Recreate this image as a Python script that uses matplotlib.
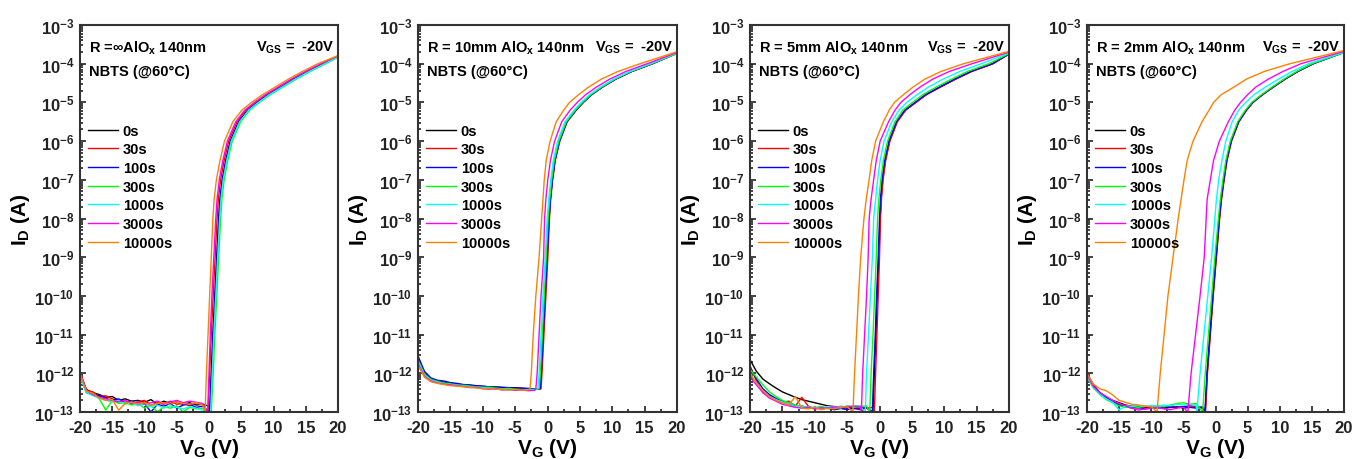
import numpy as np
import matplotlib
matplotlib.use("Agg")
import matplotlib.pyplot as plt
from matplotlib.ticker import FixedLocator, NullFormatter, FuncFormatter

plt.rcParams['font.family'] = ['Liberation Sans', 'DejaVu Sans']
plt.rcParams['font.weight'] = 'bold'
plt.rcParams['mathtext.default'] = 'regular'
plt.rcParams['axes.unicode_minus'] = False

# ---------------- data ----------------
LABELS = ['0s', '30s', '100s', '300s', '1000s', '3000s', '10000s']
COLORS = ['#000000', '#FF0000', '#0000FF', '#00FF00', '#00FFFF', '#FF00FF', '#FF8000']

TITLES = ['R =\u221eAlO$_x$ 140nm', 'R = 10mm AlO$_x$ 140nm', 'R = 5mm AlO$_x$ 140nm', 'R = 2mm AlO$_x$ 140nm']
STRESS = 'V$_{GS}$ =  -20V'
COND = 'NBTS (@60\u00b0C)'
X_TICKS = [-20, -15, -10, -5, 0, 5, 10, 15, 20]
Y_DECADES = [-13, -12, -11, -10, -9, -8, -7, -6, -5, -4, -3]

LEVELS_A = [-13, -12, -11, -10, -9, -8, -7.5, -7, -6.5, -6, -5.5, -5.2, -5.0, -4.8, -4.6, -4.4, -4.2, -4.0]
LEVELS_B = [-12.4, -12, -11, -10, -9, -8, -7.5, -7, -6.5, -6, -5.5, -5.2, -5.0, -4.8, -4.6, -4.4, -4.2, -4.0]

# ---- panel 1 : R = inf ----
P1_FLOOR_V = list(range(-20, 1))
P1_FLOOR = [
    [-12.0, -12.42, -12.5, -12.55, -12.62, -12.6, -12.7, -12.66, -12.72, -12.7, -12.75, -12.68, -12.8, -12.72, -12.78, -12.74, -12.8, -12.76, -12.82, -12.8, -12.85],
    [-11.95, -12.45, -12.48, -12.6, -12.58, -12.66, -12.72, -12.7, -12.8, -12.74, -12.7, -12.82, -12.76, -12.8, -12.72, -12.8, -12.78, -12.84, -12.76, -12.8, -12.9],
    [-12.1, -12.5, -12.55, -12.58, -12.65, -12.7, -12.66, -12.76, -12.72, -12.8, -12.78, -13.0, -12.8, -12.85, -12.78, -12.9, -12.82, -12.8, -12.88, -12.85, -13.0],
    [-12.05, -12.48, -12.52, -12.66, -12.95, -12.7, -12.78, -12.75, -12.82, -12.78, -12.9, -12.82, -13.0, -12.86, -12.9, -12.84, -13.0, -12.88, -12.92, -12.9, -13.0],
    [-12.1, -12.5, -12.58, -12.64, -12.7, -12.74, -12.7, -12.8, -12.76, -12.84, -12.8, -12.86, -12.82, -12.9, -12.84, -12.88, -12.92, -12.86, -12.9, -12.95, -13.0],
    [-12.0, -12.44, -12.55, -12.62, -12.66, -12.7, -12.74, -12.7, -12.78, -12.74, -12.8, -12.76, -12.72, -12.78, -12.74, -12.7, -12.76, -12.72, -12.75, -12.78, -12.8],
    [-12.02, -12.46, -12.52, -12.64, -12.7, -12.68, -12.95, -12.78, -12.74, -12.8, -12.76, -12.82, -12.78, -12.76, -12.8, -12.74, -12.78, -12.8, -12.76, -12.82, -12.9],
]
P1_RISE_V = [
    [0.1, 0.35, 0.6, 0.9, 1.2, 1.5, 1.7, 2.05, 2.6, 3.3, 4.6, 6.0, 7.5, 9.2, 11.2, 13.2, 15.4, 17.8],
    [-0.15, 0.1, 0.35, 0.65, 0.95, 1.25, 1.45, 1.8, 2.35, 3.05, 4.35, 5.75, 7.25, 8.95, 10.95, 12.95, 15.15, 17.55],
    [0.15, 0.4, 0.65, 0.95, 1.25, 1.55, 1.75, 2.1, 2.65, 3.35, 4.65, 6.05, 7.55, 9.25, 11.25, 13.25, 15.45, 17.85],
    [0.35, 0.65, 0.9, 1.2, 1.5, 1.8, 2.0, 2.35, 2.9, 3.6, 4.9, 6.3, 7.8, 9.5, 11.5, 13.5, 15.7, 18.1],
    [0.25, 0.5, 0.75, 1.05, 1.35, 1.65, 1.85, 2.2, 2.75, 3.45, 4.75, 6.15, 7.65, 9.35, 11.35, 13.35, 15.55, 17.95],
    [-0.2, 0.0, 0.2, 0.45, 0.75, 1.05, 1.25, 1.6, 2.15, 2.85, 4.15, 5.55, 7.05, 8.75, 10.75, 12.75, 14.95, 17.35],
    [-0.6, -0.4, -0.15, 0.1, 0.35, 0.6, 0.8, 1.15, 1.7, 2.4, 3.7, 5.1, 6.6, 8.3, 10.3, 12.3, 14.5, 16.9],
]
P1_END = [-3.82, -3.81, -3.82, -3.83, -3.82, -3.80, -3.79]

# ---- panel 2 : R = 10 mm ----
P2_FLOOR_V = list(range(-20, 0))
P2_FLOOR = [
    [-11.6, -12.0, -12.15, -12.2, -12.23, -12.26, -12.28, -12.3, -12.31, -12.33, -12.34, -12.35, -12.36, -12.37, -12.38, -12.37, -12.39, -12.4, -12.4, -12.41],
    [-11.7, -12.05, -12.18, -12.24, -12.26, -12.3, -12.27, -12.33, -12.36, -12.34, -12.38, -12.37, -12.4, -12.39, -12.42, -12.4, -12.41, -12.43, -12.42, -12.4],
    [-11.55, -11.95, -12.12, -12.18, -12.2, -12.24, -12.26, -12.29, -12.3, -12.32, -12.33, -12.35, -12.35, -12.36, -12.37, -12.38, -12.38, -12.39, -12.4, -12.4],
    [-11.65, -12.02, -12.16, -12.21, -12.25, -12.27, -12.3, -12.31, -12.33, -12.35, -12.36, -12.36, -12.38, -12.4, -12.39, -12.41, -12.42, -12.42, -12.41, -12.4],
    [-11.7, -12.05, -12.18, -12.23, -12.27, -12.29, -12.31, -12.33, -12.35, -12.36, -12.37, -12.39, -12.4, -12.42, -12.41, -12.43, -12.44, -12.42, -12.43, -12.42],
    [-11.75, -12.08, -12.2, -12.25, -12.28, -12.3, -12.32, -12.34, -12.37, -12.36, -12.4, -12.41, -12.4, -12.43, -12.42, -12.44, -12.43, -12.45, -12.44, -12.43],
    [-11.8, -12.1, -12.22, -12.26, -12.29, -12.32, -12.33, -12.35, -12.36, -12.38, -12.39, -12.4, -12.41, -12.42, -12.43, -12.42, -12.44, -12.43, -12.42, -12.41],
]
P2_RISE_V = [
    [-1.1, -0.95, -0.65, -0.35, -0.05, 0.25, 0.45, 0.75, 1.15, 1.85, 3.0, 4.4, 5.5, 6.8, 8.5, 10.5, 13.0, 16.2],
    [-1.0, -0.85, -0.55, -0.25, 0.05, 0.3, 0.5, 0.8, 1.2, 1.9, 3.05, 4.45, 5.55, 6.85, 8.55, 10.55, 13.05, 16.25],
    [-1.15, -0.98, -0.68, -0.38, -0.07, 0.23, 0.44, 0.74, 1.14, 1.84, 2.98, 4.38, 5.48, 6.78, 8.48, 10.48, 12.98, 16.18],
    [-1.3, -1.1, -0.8, -0.5, -0.2, 0.1, 0.35, 0.65, 1.05, 1.75, 2.9, 4.3, 5.4, 6.7, 8.4, 10.4, 12.9, 16.1],
    [-1.5, -1.3, -1.0, -0.7, -0.35, -0.05, 0.2, 0.5, 0.9, 1.55, 2.7, 4.1, 5.2, 6.5, 8.2, 10.2, 12.7, 15.9],
    [-1.8, -1.6, -1.3, -1.0, -0.6, -0.45, -0.25, 0.05, 0.45, 1.1, 2.2, 3.5, 4.6, 5.9, 7.6, 9.6, 12.1, 15.4],
    [-2.7, -2.5, -2.2, -1.8, -1.3, -0.9, -0.7, -0.5, -0.2, 0.4, 1.35, 2.5, 3.4, 4.8, 6.4, 8.3, 10.9, 14.3],
]
P2_END = [-3.73, -3.73, -3.73, -3.74, -3.72, -3.71, -3.69]

# ---- panel 3 : R = 5 mm ----
P3_FLOOR_V = list(range(-20, 1))
P3_FLOOR = [
    [-11.65, -11.95, -12.15, -12.27, -12.38, -12.48, -12.55, -12.62, -12.68, -12.72, -12.76, -12.8, -12.84, -12.86, -12.87, -12.88, -12.88, -12.9, -12.9, -12.92, -12.92],
    [-11.8, -12.2, -12.5, -12.58, -12.7, -12.75, -12.72, -12.85, -12.62, -12.85, -12.92, -12.9, -12.88, -12.92, -12.9, -12.93, -12.91, -12.94, -12.9, -12.88, -12.9],
    [-11.85, -12.15, -12.4, -12.55, -12.65, -12.72, -12.8, -12.86, -12.84, -12.9, -12.88, -12.92, -12.9, -12.94, -12.91, -12.93, -12.9, -12.92, -12.88, -12.9, -12.9],
    [-11.9, -12.1, -12.3, -12.48, -12.6, -12.7, -12.76, -12.82, -12.88, -12.86, -12.9, -12.85, -12.92, -12.86, -12.9, -12.84, -12.88, -12.86, -12.84, -12.86, -12.88],
    [-12.0, -12.25, -12.45, -12.6, -12.68, -12.74, -12.8, -12.86, -12.84, -12.9, -12.87, -12.9, -12.86, -12.88, -12.85, -12.87, -12.84, -12.86, -12.85, -12.86, -12.86],
    [-12.1, -12.3, -12.5, -12.64, -12.72, -12.8, -12.84, -12.88, -12.9, -12.88, -12.92, -12.89, -12.9, -12.87, -12.88, -12.86, -12.85, -12.85, -12.86, -12.84, -12.85],
    [-12.0, -12.25, -12.45, -12.6, -12.7, -12.76, -12.82, -12.6, -12.9, -12.92, -12.88, -12.94, -12.9, -12.92, -12.88, -12.86, -12.87, -12.85, -12.86, -12.85, -12.86],
]
P3_RISE_V = [
    [-1.0, -0.8, -0.55, -0.35, -0.1, 0.1, 0.25, 0.5, 0.9, 1.55, 2.7, 4.0, 5.6, 7.2, 9.4, 11.7, 14.2, 17.5],
    [-0.8, -0.6, -0.4, -0.2, 0.0, 0.15, 0.3, 0.55, 0.95, 1.6, 2.75, 4.05, 5.65, 7.25, 9.45, 11.75, 14.25, 17.55],
    [-1.1, -0.9, -0.65, -0.45, -0.2, 0.0, 0.15, 0.4, 0.8, 1.45, 2.6, 3.9, 5.5, 7.1, 9.3, 11.6, 14.1, 17.4],
    [-1.5, -1.3, -1.0, -0.75, -0.5, -0.3, -0.1, 0.2, 0.6, 1.25, 2.4, 3.6, 5.1, 6.7, 8.8, 11.1, 13.6, 16.9],
    [-2.2, -2.0, -1.7, -1.4, -1.1, -0.9, -0.6, -0.3, 0.1, 0.7, 1.9, 3.0, 4.2, 5.8, 7.6, 9.8, 12.4, 15.7],
    [-2.8, -2.6, -2.3, -2.0, -1.75, -1.6, -1.3, -0.9, -0.5, 0.1, 1.4, 2.4, 3.3, 4.7, 6.3, 8.2, 10.8, 14.3],
    [-4.1, -3.85, -3.55, -3.25, -2.9, -2.4, -2.05, -1.6, -1.2, -0.6, 0.6, 1.5, 2.3, 3.7, 5.2, 7.0, 9.5, 13.0],
]
P3_END = [-3.75, -3.75, -3.75, -3.74, -3.72, -3.70, -3.68]

# ---- panel 4 : R = 2 mm ----
P4_FLOOR_V = list(range(-20, 0))
P4_FLOOR = [
    [-12.0, -12.3, -12.5, -12.62, -12.7, -12.76, -12.82, -12.85, -12.86, -12.88, -12.9, -12.87, -12.9, -12.88, -12.86, -12.9, -12.88, -12.87, -12.9, -12.88],
    [-12.05, -12.35, -12.52, -12.65, -12.72, -12.8, -12.84, -12.87, -12.9, -12.86, -12.88, -12.9, -12.87, -12.85, -12.88, -12.86, -12.84, -12.86, -12.88, -12.86],
    [-12.02, -12.32, -12.5, -12.64, -12.74, -12.82, -12.86, -12.9, -12.88, -12.92, -12.9, -12.88, -12.9, -12.87, -12.89, -12.86, -12.88, -12.9, -12.87, -12.9],
    [-12.1, -12.38, -12.55, -12.68, -12.76, -12.84, -12.88, -12.86, -12.88, -12.85, -12.86, -12.84, -12.86, -12.82, -12.78, -12.76, -12.8, -12.78, -12.8, -12.82],
    [-12.08, -12.36, -12.54, -12.66, -12.75, -12.95, -12.84, -12.85, -12.84, -12.86, -12.83, -12.85, -12.82, -12.84, -12.8, -12.82, -12.8, -12.82, -12.81, -12.82],
    [-12.04, -12.34, -12.5, -12.6, -12.7, -12.78, -12.84, -12.9, -12.95, -12.92, -12.9, -12.88, -12.92, -12.94, -12.9, -12.88, -12.87, -12.86, -12.88, -12.87],
    [-12.0, -12.28, -12.4, -12.45, -12.56, -12.7, -12.75, -12.8, -12.82, -12.85, -12.86, -12.84, -12.86, -12.88, -12.87, -12.86, -12.88, -12.86, -12.87, -12.86],
]
P4_RISE_V = [
    [-1.6, -1.3, -0.85, -0.4, 0.1, 0.6, 0.9, 1.3, 1.75, 2.45, 3.6, 4.8, 5.8, 7.3, 9.0, 10.8, 12.8, 15.2],
    [-1.55, -1.25, -0.8, -0.35, 0.15, 0.65, 0.95, 1.35, 1.8, 2.5, 3.65, 4.85, 5.85, 7.35, 9.05, 10.85, 12.85, 15.25],
    [-1.65, -1.32, -0.87, -0.42, 0.08, 0.58, 0.88, 1.28, 1.73, 2.43, 3.58, 4.78, 5.78, 7.28, 8.98, 10.78, 12.78, 15.18],
    [-2.0, -1.6, -1.1, -0.6, -0.1, 0.45, 0.75, 1.15, 1.6, 2.3, 3.45, 4.65, 5.65, 7.15, 8.85, 10.65, 12.65, 15.05],
    [-2.9, -2.4, -1.8, -1.2, -0.6, -0.1, 0.15, 0.5, 1.0, 1.6, 2.6, 3.6, 4.7, 6.0, 7.8, 9.8, 11.9, 14.5],
    [-4.3, -3.8, -3.1, -2.4, -1.75, -1.45, -1.3, -0.8, -0.3, 0.6, 2.0, 3.0, 3.9, 5.0, 6.3, 8.2, 10.5, 13.3],
    [-9.1, -8.6, -8.0, -7.4, -6.6, -5.8, -5.35, -4.9, -4.4, -3.5, -2.1, -1.0, -0.3, 0.9, 2.9, 4.8, 7.6, 11.6],
]
P4_END = [-3.70, -3.70, -3.71, -3.71, -3.70, -3.68, -3.66]

PANELS = [
    (P1_FLOOR_V, P1_FLOOR, LEVELS_A, P1_RISE_V, P1_END),
    (P2_FLOOR_V, P2_FLOOR, LEVELS_B, P2_RISE_V, P2_END),
    (P3_FLOOR_V, P3_FLOOR, LEVELS_A, P3_RISE_V, P3_END),
    (P4_FLOOR_V, P4_FLOOR, LEVELS_A, P4_RISE_V, P4_END),
]

# ---------------- layout ----------------
W, H = 1354, 460
AX_PX = [(80, 258), (418, 259), (750, 259), (1087, 257)]
AX_TOP, AX_BOT = 26, 413


def build(floor_v, floor_vals, levels, rise_v, end):
    v = [x for x in floor_v if x < rise_v[0]]
    y = list(floor_vals[:len(v)])
    v = v + list(rise_v) + [20]
    y = y + list(levels) + [end]
    return np.array(v, float), 10.0 ** np.array(y, float)


fig = plt.figure(figsize=(W / 100, H / 100), dpi=100)

for p, (fv, fl, lev, rv, en) in enumerate(PANELS):
    left, width = AX_PX[p]
    ax = fig.add_axes([left / W, 1 - AX_BOT / H, width / W, (AX_BOT - AX_TOP) / H])
    for s in range(len(LABELS)):
        x, y = build(fv, fl[s], lev, rv[s], en[s])
        ax.plot(x, y, color=COLORS[s], lw=1.0, label=LABELS[s])
    ax.set_yscale('log')
    ax.set_xlim(-20, 20)
    ax.set_ylim(1e-13, 1e-3)
    ax.xaxis.set_major_locator(FixedLocator(X_TICKS))
    ax.xaxis.set_minor_locator(FixedLocator([-17.5, -12.5, -7.5, -2.5, 2.5, 7.5, 12.5, 17.5]))
    ax.yaxis.set_major_locator(FixedLocator([10.0 ** d for d in Y_DECADES]))
    ax.yaxis.set_minor_locator(FixedLocator([m * 10.0 ** d for d in Y_DECADES[:-1] for m in range(2, 10)]))
    ax.yaxis.set_minor_formatter(NullFormatter())
    ax.yaxis.set_major_formatter(FuncFormatter(lambda val, pos: '$10^{%d}$' % int(round(np.log10(val)))))
    ax.tick_params(which='both', direction='in', top=False, right=False, colors='#222222', width=1.2)
    ax.tick_params(which='major', length=4, labelsize=12)
    ax.tick_params(axis='x', which='major', pad=6)
    ax.tick_params(axis='y', which='major', pad=4)
    ax.tick_params(which='minor', length=2)
    for lbl in ax.get_xticklabels() + ax.get_yticklabels():
        lbl.set_fontweight('bold')
    for sp in ax.spines.values():
        sp.set_linewidth(1.5)
        sp.set_color('#333333')
    ax.set_xlabel('V$_G$ (V)', fontsize=15, fontweight='bold', labelpad=0.5)
    ax.set_ylabel('I$_D$ (A)', fontsize=15, fontweight='bold', labelpad=2)

    ax.text(0.035, 0.943, TITLES[p], transform=ax.transAxes, fontsize=10.5, fontweight='bold',
            ha='left', va='center')
    ax.text(0.985, 0.943, STRESS, transform=ax.transAxes, fontsize=10.5, fontweight='bold',
            ha='right', va='center')
    ax.text(0.035, 0.881, COND, transform=ax.transAxes, fontsize=10.5, fontweight='bold',
            ha='left', va='center')
    leg = ax.legend(loc='upper left', bbox_to_anchor=(0.03, 0.745), frameon=False,
                    prop={'weight': 'bold', 'size': 10.5}, handlelength=2.05, handletextpad=0.35,
                    labelspacing=0.32, borderpad=0, borderaxespad=0)

fig.savefig('out.png', dpi=100)
